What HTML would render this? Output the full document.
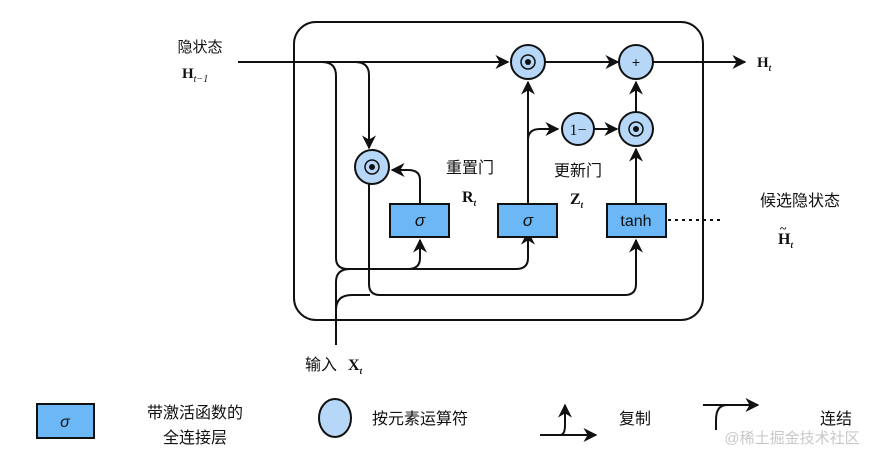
<!DOCTYPE html>
<html><head><meta charset="utf-8"><style>
body{margin:0;background:#fff;width:886px;height:463px;overflow:hidden}
text{font-family:"Liberation Sans","Noto Sans CJK SC",sans-serif;fill:#111}
.s{font-family:"Liberation Serif",serif;font-weight:bold}
</style></head><body>
<svg width="886" height="463" viewBox="0 0 886 463" xmlns="http://www.w3.org/2000/svg">
<defs><marker id="a" viewBox="0 0 10 10" refX="9" refY="5" markerWidth="7" markerHeight="7" orient="auto"><path d="M0,0 L10,5 L0,10 L3,5z" fill="#111"/></marker></defs>
<g fill="none" stroke="#111" stroke-width="2">
<rect x="294" y="22" width="409" height="298" rx="22"/>
<path d="M238,62 H508" marker-end="url(#a)"/>
<path d="M545,62 H618" marker-end="url(#a)"/>
<path d="M653,62 H745" marker-end="url(#a)"/>
<path d="M322,62 Q336,62 336,76 V258 Q336,269 348,269 H408 Q420,269 420,258 V240" marker-end="url(#a)"/>
<path d="M408,269 H516 Q528,269 528,258 V240"/>
<path d="M528,240 L528,232" marker-end="url(#a)"/>
<path d="M355,62 Q369,62 369,75 V148" marker-end="url(#a)"/>
<path d="M369,184 V284 Q369,295 380,295 H625 Q636,295 636,284 V240" marker-end="url(#a)"/>
<path d="M420,204 V180 Q420,170 408,170 H392" marker-end="url(#a)"/>
<path d="M528,204 V82" marker-end="url(#a)"/>
<path d="M528,140 Q528,129 540,129 H558" marker-end="url(#a)"/>
<path d="M595,129 H617" marker-end="url(#a)"/>
<path d="M636,204 V149" marker-end="url(#a)"/>
<path d="M636,112 V82" marker-end="url(#a)"/>
<path d="M336,345 V282 Q336,269 350,269"/>
<path d="M336,320 V310 Q336,295 352,295 H370"/>
<path d="M668,220 H722" stroke-dasharray="3,4"/>
</g>
<g stroke="#111" stroke-width="2" fill="#b6d7f7">
<circle cx="528" cy="62" r="17"/><circle cx="636" cy="62" r="17"/>
<circle cx="372" cy="167" r="17"/><circle cx="578" cy="129" r="16"/><circle cx="636" cy="129" r="17"/>
</g>
<g fill="#111"><circle cx="528" cy="62" r="3"/><circle cx="372" cy="167" r="3"/><circle cx="636" cy="129" r="3"/></g>
<g fill="none" stroke="#111" stroke-width="1.5"><circle cx="528" cy="62" r="7"/><circle cx="372" cy="167" r="7"/><circle cx="636" cy="129" r="7"/></g>
<text x="636" y="67" text-anchor="middle" font-size="14">+</text>
<text x="578" y="135" text-anchor="middle" font-size="16" style="font-family:'Liberation Serif',serif">1−</text>
<g stroke="#111" stroke-width="2" fill="#6cb8f6">
<rect x="390" y="204" width="59" height="33"/><rect x="498" y="204" width="59" height="33"/><rect x="607" y="204" width="59" height="33"/>
</g>
<text x="420" y="226" text-anchor="middle" font-size="17" font-style="italic">σ</text>
<text x="528" y="226" text-anchor="middle" font-size="17" font-style="italic">σ</text>
<text x="636" y="226" text-anchor="middle" font-size="16">tanh</text>
<text x="200" y="52" text-anchor="middle" font-size="15">隐状态</text>
<text x="182" y="78" class="s" font-size="15">H<tspan font-size="10" font-style="italic" font-weight="normal" dy="4">t−1</tspan></text>
<text x="757" y="67" class="s" font-size="15">H<tspan font-size="9" font-style="italic" dy="4">t</tspan></text>
<text x="470" y="173" text-anchor="middle" font-size="16">重置门</text>
<text x="462" y="202" class="s" font-size="16">R<tspan font-size="9" font-style="italic" dy="4">t</tspan></text>
<text x="578" y="176" text-anchor="middle" font-size="16">更新门</text>
<text x="570" y="204" class="s" font-size="16">Z<tspan font-size="9" font-style="italic" dy="4">t</tspan></text>
<text x="800" y="206" text-anchor="middle" font-size="16">候选隐状态</text>
<text x="778" y="244" class="s" font-size="16">H<tspan font-size="9" font-style="italic" dy="4">t</tspan></text>
<text x="780" y="232" font-size="12" class="s">~</text>
<text x="305" y="370" font-size="16">输入</text>
<text x="348" y="370" class="s" font-size="16">X<tspan font-size="9" font-style="italic" dy="4">t</tspan></text>
<rect x="37" y="404" width="57" height="34" fill="#6cb8f6" stroke="#111" stroke-width="2"/>
<text x="65" y="427" text-anchor="middle" font-size="16" font-style="italic">σ</text>
<text x="195" y="418" text-anchor="middle" font-size="16">带激活函数的</text>
<text x="195" y="443" text-anchor="middle" font-size="16">全连接层</text>
<ellipse cx="335" cy="418" rx="16" ry="19" fill="#b6d7f7" stroke="#111" stroke-width="2"/>
<text x="420" y="424" text-anchor="middle" font-size="16">按元素运算符</text>
<g fill="none" stroke="#111" stroke-width="2">
<path d="M540,435 H560 Q565,435 565,425 V405" marker-end="url(#a)"/>
<path d="M560,435 H596" marker-end="url(#a)"/>
<path d="M703,405 H758" marker-end="url(#a)"/>
<path d="M727,405 Q716,405 716,420 V430"/>
</g>
<text x="635" y="424" text-anchor="middle" font-size="16">复制</text>
<text x="836" y="424" text-anchor="middle" font-size="16">连结</text>
<text x="792" y="443" text-anchor="middle" font-size="15" style="fill:#c8c8c8">@稀土掘金技术社区</text>
</svg>
</body></html>
